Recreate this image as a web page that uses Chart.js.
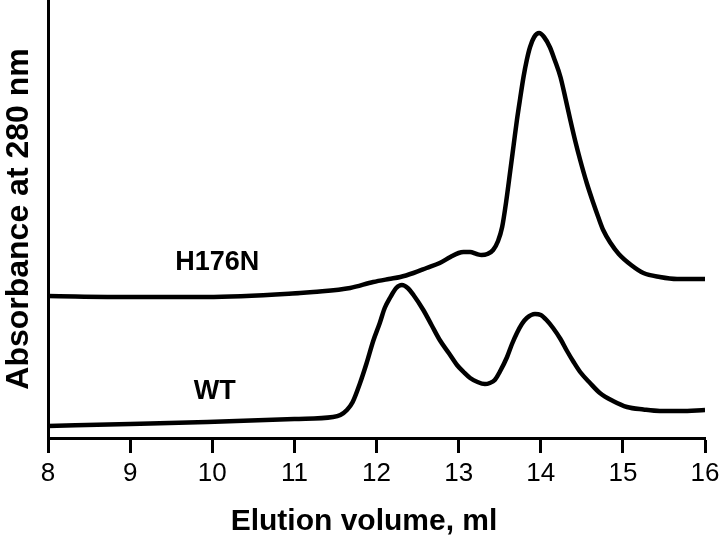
<!DOCTYPE html>
<html>
<head>
<meta charset="utf-8">
<script src="https://cdn.jsdelivr.net/npm/chart.js@4/dist/chart.umd.min.js"></script>
<style>
  html, body { margin: 0; padding: 0; background: #fff; }
  #wrap { width: 720px; height: 542px; }
</style>
</head>
<body>
<div id="wrap"><canvas id="chart" width="720" height="542"></canvas></div>
<script>
// elution volume (ml) and absorbance (arbitrary units, traces offset as in the figure)
const wtVolume = [8.0, 9.0, 9.94, 11.0, 11.47, 11.56, 11.64, 11.71, 11.8, 11.88, 11.96, 12.04, 12.1, 12.17, 12.24, 12.31, 12.38, 12.45, 12.57, 12.67, 12.77, 12.88, 12.98, 13.06, 13.14, 13.23, 13.32, 13.38, 13.44, 13.5, 13.59, 13.65, 13.71, 13.77, 13.83, 13.93, 14.0, 14.07, 14.15, 14.24, 14.32, 14.40, 14.48, 14.6, 14.72, 14.88, 15.05, 15.25, 15.45, 15.7, 16.0];
const wtAbs = [12, 14, 16, 19, 21, 23, 28, 36, 55, 75, 97, 115, 130, 141, 150, 153, 150, 143, 128, 113, 98, 85, 73, 66, 60, 56, 54, 55, 58, 66, 81, 94, 105, 114, 120, 124, 123, 118, 110, 99, 87, 76, 66, 55, 45, 37, 31, 28.5, 27, 27, 28];

const mutVolume = [8.0, 9.0, 9.93, 11.07, 11.23, 11.68, 11.96, 12.15, 12.29, 12.45, 12.61, 12.77, 12.9, 13.0, 13.06, 13.14, 13.22, 13.28, 13.35, 13.42, 13.48, 13.53, 13.58, 13.63, 13.67, 13.71, 13.75, 13.79, 13.83, 13.87, 13.92, 13.98, 14.04, 14.11, 14.17, 14.24, 14.30, 14.36, 14.42, 14.48, 14.56, 14.64, 14.70, 14.76, 14.85, 14.95, 15.1, 15.25, 15.45, 15.66, 16.0];
const mutAbs = [142, 141, 141, 145, 146, 150, 156, 159, 161, 165, 170, 175, 181, 185, 186, 186, 184, 183, 184, 188, 197, 211, 237, 268, 293, 318, 340, 361, 378, 391, 401, 405, 401, 391, 378, 361, 340, 318, 297, 278, 255, 235, 221, 208, 195, 184, 173, 165, 161, 159, 159];

const xTicks = [8, 9, 10, 11, 12, 13, 14, 15, 16];

// trace labels, placed in data units
const labelNames = ['H176N', 'WT'];
const labelX = [10.06, 10.03];
const labelY = [175, 46];

const FONT = "'Liberation Sans', Arial, sans-serif";

const toPoints = (xs, ys) => xs.map((x, i) => ({ x, y: ys[i] }));

const traceLabels = {
  id: 'traceLabels',
  afterDatasetsDraw(chart) {
    const { ctx, scales: { x, y } } = chart;
    ctx.save();
    ctx.fillStyle = '#000';
    ctx.font = `bold 27px ${FONT}`;
    ctx.textAlign = 'center';
    ctx.textBaseline = 'middle';
    labelNames.forEach((name, i) => {
      ctx.fillText(name, x.getPixelForValue(labelX[i]), y.getPixelForValue(labelY[i]));
    });
    ctx.restore();
  },
};

new Chart(document.getElementById('chart'), {
  type: 'line',
  data: {
    datasets: [
      { label: 'H176N', data: toPoints(mutVolume, mutAbs) },
      { label: 'WT', data: toPoints(wtVolume, wtAbs) },
    ],
  },
  options: {
    responsive: false,
    animation: false,
    layout: { padding: { left: 0, right: 15, top: 0, bottom: 0 } },
    elements: {
      line: { borderColor: '#000', borderWidth: 4.5, tension: 0.4, cubicInterpolationMode: 'monotone' },
      point: { radius: 0 },
    },
    plugins: {
      legend: { display: false },
      tooltip: { enabled: false },
    },
    scales: {
      x: {
        type: 'linear',
        min: 8,
        max: 16,
        afterBuildTicks: (scale) => { scale.ticks = xTicks.map(v => ({ value: v })); },
        afterFit: (scale) => {
          scale.height = 104;
          // let the layout padding alone decide the plot edges
          scale.paddingLeft = 0;
          scale.paddingRight = 0;
        },
        grid: { drawOnChartArea: false, drawTicks: true, tickLength: 15, tickWidth: 3, tickColor: '#000' },
        border: { display: true, color: '#000', width: 3 },
        ticks: { color: '#000', padding: 5, font: { family: FONT, size: 26 } },
        title: {
          display: true,
          text: 'Elution volume, ml   ',
          color: '#000',
          font: { family: FONT, size: 30, weight: 'bold' },
          padding: { top: 0, bottom: 2 },
        },
      },
      y: {
        min: 0,
        max: 438,
        afterFit: (scale) => { scale.width = 48; },
        grid: { display: false },
        border: { display: true, color: '#000', width: 3 },
        ticks: { display: false },
        title: {
          display: true,
          text: 'Absorbance at 280 nm',
          color: '#000',
          font: { family: FONT, size: 32, weight: 'bold' },
          padding: { top: 0, bottom: 0 },
        },
      },
    },
  },
  plugins: [traceLabels],
});
</script>
</body>
</html>
